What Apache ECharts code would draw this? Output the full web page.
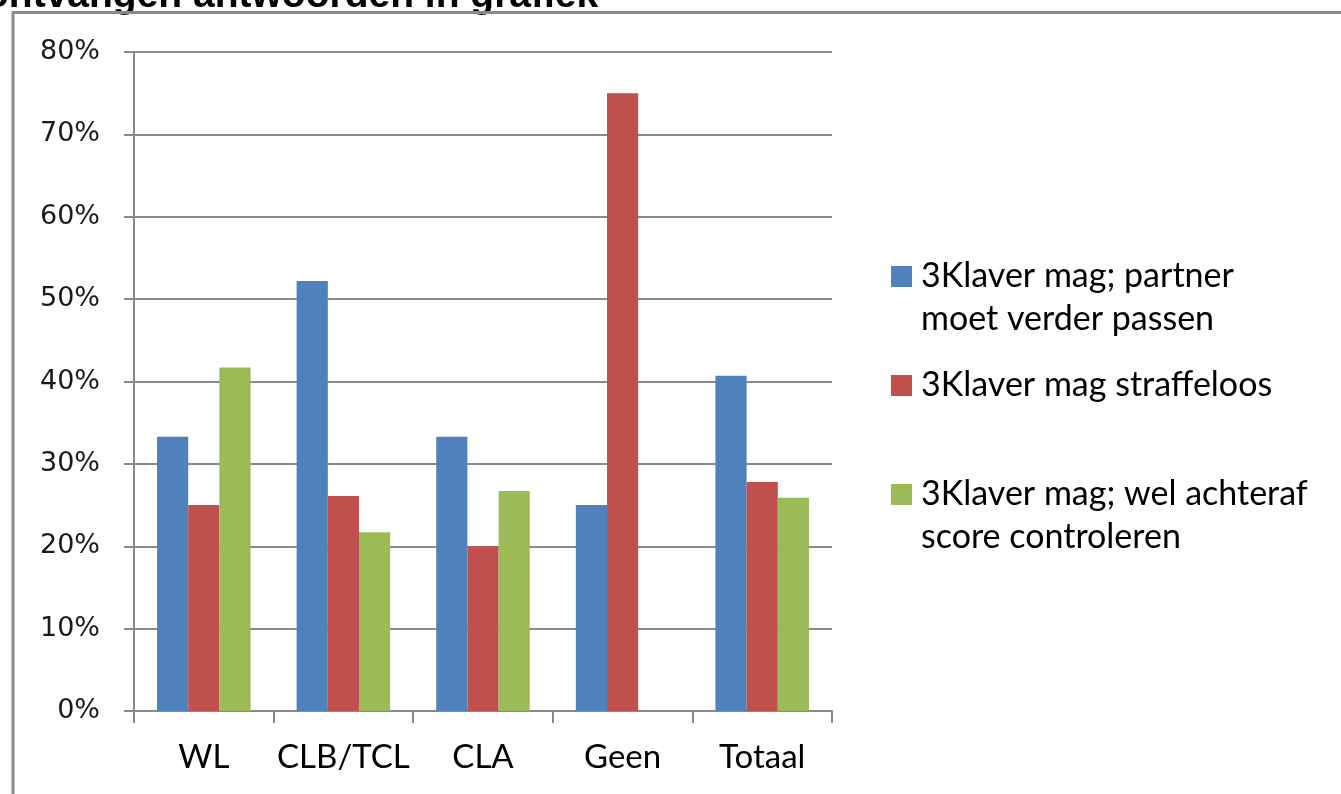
<!DOCTYPE html>
<html>
<head>
<meta charset="utf-8">
<script src="https://cdn.jsdelivr.net/npm/echarts@6/dist/echarts.min.js"></script>
<style>
html,body{margin:0;padding:0;background:#fff;}
#chart{width:1341px;height:794px;}
</style>
</head>
<body>
<div id="chart"></div>
<script>
const titleText = 'ontvangen antwoorden in grafiek';
const categories = ['WL', 'CLB/TCL', 'CLA', 'Geen', 'Totaal'];
const seriesNames = [
  '3Klaver mag; partner moet verder passen',
  '3Klaver mag straffeloos',
  '3Klaver mag; wel achteraf score controleren'
];
const legendLines = [
  ['3Klaver mag; partner', 'moet verder passen'],
  ['3Klaver mag straffeloos'],
  ['3Klaver mag; wel achteraf', 'score controleren']
];
const partnerValues = [33.3, 52.2, 33.3, 25.0, 40.7];
const straffeloosValues = [25.0, 26.1, 20.0, 75.0, 27.8];
const controlerenValues = [41.7, 21.7, 26.7, 0, 25.9];
const yTicks = [0, 10, 20, 30, 40, 50, 60, 70, 80];
const colors = ['#4F81BD', '#C0504D', '#9BBB59'];

const chart = echarts.init(document.getElementById('chart'));
const L = 43;
const textFont = 'Lato, "Open Sans", sans-serif';

const valueSets = [partnerValues, straffeloosValues, controlerenValues];

chart.setOption({
  animation: false,
  backgroundColor: '#fff',
  color: colors,
  graphic: [
    {
      type: 'text', left: -15, top: -23,
      style: { text: titleText, font: 'bold 39px "Liberation Sans", Arial, sans-serif', fill: '#000' }
    },
    {
      type: 'polyline',
      shape: { points: [[13, 794], [13, 12.5], [1341, 12.5]] },
      style: { stroke: '#8a8a8a', lineWidth: 3, fill: null }
    }
  ],
  legend: {
    orient: 'vertical',
    left: 886,
    top: 207,
    itemWidth: 21,
    itemHeight: 21,
    itemGap: 23,
    icon: 'rect',
    data: seriesNames,
    formatter: function (name) {
      const lines = legendLines[seriesNames.indexOf(name)];
      if (lines.length > 1) {
        return '{a| }\n' + lines.map(s => '{a|' + s + '}').join('\n');
      }
      return '{a|' + lines[0] + '}';
    },
    textStyle: {
      fontFamily: textFont,
      fontSize: 34,
      color: '#000',
      lineHeight: L,
      rich: {
        a: { fontFamily: textFont, fontSize: 34, color: '#000', lineHeight: L, padding: [0, 0, 0, 4] }
      }
    }
  },
  grid: { left: 134, right: 509, top: 52, bottom: 83 },
  xAxis: {
    type: 'category',
    data: categories,
    axisLine: { lineStyle: { color: '#8a8a8a', width: 2 } },
    axisTick: { show: true, length: 12, lineStyle: { color: '#8a8a8a', width: 2 } },
    axisLabel: { interval: 0, fontFamily: textFont, fontSize: 33, color: '#000', margin: 30 }
  },
  yAxis: {
    type: 'value',
    min: yTicks[0],
    max: yTicks[yTicks.length - 1],
    interval: 10,
    axisLine: { show: true, lineStyle: { color: '#8a8a8a', width: 2 } },
    axisTick: { show: true, length: 10, lineStyle: { color: '#8a8a8a', width: 2 } },
    splitLine: { lineStyle: { color: '#8a8a8a', width: 2 } },
    axisLabel: {
      formatter: v => v + '%',
      fontFamily: '"DejaVu Sans", Verdana, sans-serif',
      fontSize: 27,
      color: '#1a1a1a',
      margin: 34
    }
  },
  series: seriesNames.map((n, i) => ({
    name: n,
    type: 'bar',
    data: valueSets[i],
    barGap: '0%',
    barCategoryGap: '33%',
    itemStyle: { color: colors[i] }
  }))
});
</script>
</body>
</html>
